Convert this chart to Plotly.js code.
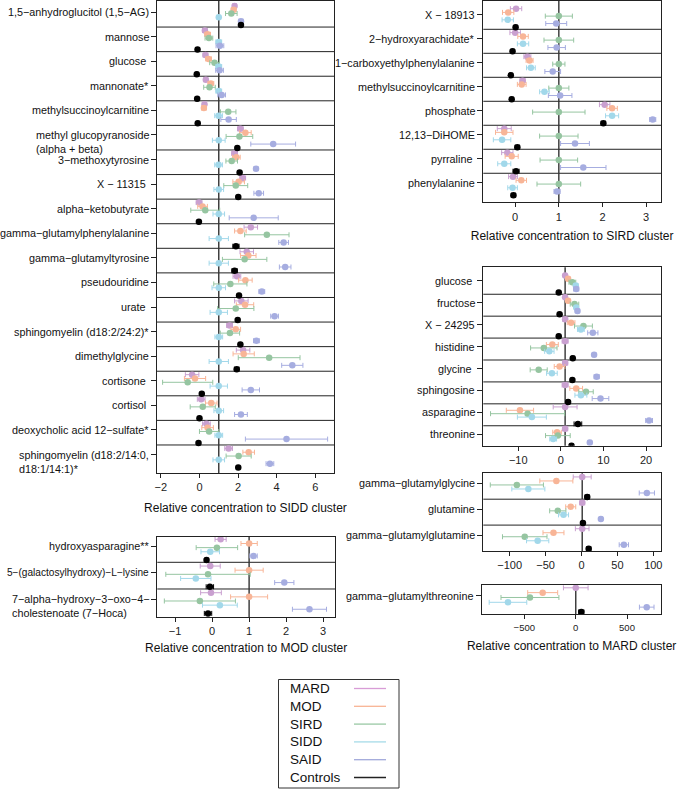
<!DOCTYPE html>
<html><head><meta charset="utf-8">
<script src="https://cdn.plot.ly/plotly-3.0.1.min.js"></script>
<style>html,body{margin:0;padding:0;background:#fff}#chart{width:683px;height:789px}</style>
</head><body><div id="chart"></div>
<script>
// ---------------- DATA ----------------
const groups = ['MARD', 'MOD', 'SIRD', 'SIDD', 'SAID', 'Controls'];

// Panel: relative to SIDD cluster
const siddLabels = ['1,5−anhydroglucitol (1,5−AG)', 'mannose', 'glucose ', 'mannonate*', 'methylsuccinoylcarnitine',
  'methyl glucopyranoside<br>(alpha + beta)', '3−methoxytyrosine', 'X − 11315 ', 'alpha−ketobutyrate',
  'gamma−glutamylphenylalanine', 'gamma−glutamyltyrosine', 'pseudouridine', 'urate ', 'sphingomyelin (d18:2/24:2)*',
  'dimethylglycine', 'cortisone ', 'cortisol ', 'deoxycholic acid 12−sulfate*', 'sphingomyelin (d18:2/14:0,<br>d18:1/14:1)*'];
const siddMARD = [1.82, 0.28, 0.31, 0.33, 0.26, 2.12, 1.82, 2.24, -0.02, 2.66, 2.45, 1.94, 2.17, 1.56, 2.26, -0.38, 0.09, 0.36, 1.51];
const siddMARDErr = [0.1, 0.12, 0.12, 0.1, 0.1, 0.15, 0.15, 0.15, 0.15, 0.35, 0.35, 0.2, 0.35, 0.15, 0.35, 0.35, 0.2, 0.2, 0.2];
const siddMOD = [1.77, 0.42, 0.47, 0.59, 0.23, 2.38, 1.91, 2.03, 0.16, 2.12, 2.53, 2.38, 2.36, 1.88, 2.29, -0.23, 0.61, 0.42, 2.55];
const siddMODErr = [0.12, 0.15, 0.15, 0.15, 0.12, 0.3, 0.2, 0.3, 0.25, 0.3, 0.4, 0.35, 0.45, 0.25, 0.55, 0.55, 0.3, 0.3, 0.3];
const siddSIRD = [1.65, 0.49, 0.78, 0.52, 1.49, 2.07, 1.67, 1.88, 0.3, 3.49, 2.34, 1.6, 1.88, 1.58, 3.61, -0.61, 0.17, 0.5, 2.03];
const siddSIRDErr = [0.3, 0.2, 0.25, 0.3, 0.4, 0.69, 0.3, 0.62, 0.75, 1.15, 1.15, 0.86, 0.94, 0.5, 1.6, 1.3, 0.65, 0.5, 0.65];
const siddSIDD = [1.0, 1.0, 1.0, 1.0, 0.99, 1.0, 0.99, 1.0, 1.0, 1.0, 1.0, 1.0, 1.0, 1.0, 1.0, 1.0, 1.0, 1.0, 1.0];
const siddSIDDErr = [0.08, 0.15, 0.15, 0.15, 0.2, 0.33, 0.2, 0.25, 0.3, 0.5, 0.5, 0.35, 0.45, 0.2, 0.5, 0.45, 0.25, 0.2, 0.3];
const siddSAID = [2.15, 1.06, 1.04, 1.15, 1.51, 3.82, 2.93, 3.07, 2.81, 4.36, 4.44, 3.23, 3.89, 2.95, 4.81, 2.66, 2.15, 4.51, 3.65];
const siddSAIDErr = [0.1, 0.2, 0.2, 0.2, 0.4, 1.16, 0.1, 0.25, 1.27, 0.25, 0.3, 0.15, 0.2, 0.15, 0.55, 0.45, 0.33, 2.13, 0.2];
const siddCtrl = [2.15, -0.1, -0.14, -0.12, -0.09, 1.96, 2.08, 2.01, -0.03, 1.89, 1.82, 2.05, 1.98, 2.12, 1.93, 0.12, 0.0, -0.05, 2.01];
const siddCtrlErr = [0.05, 0.05, 0.05, 0.05, 0.05, 0.05, 0.05, 0.05, 0.05, 0.16, 0.14, 0.05, 0.05, 0.05, 0.12, 0.05, 0.05, 0.05, 0.05];

// Panel: relative to MOD cluster
const modLabels = ['hydroxyasparagine**', '5−(galactosylhydroxy)−L−lysine', '7−alpha−hydroxy−3−oxo−4−<br>cholestenoate (7−Hoca)'];
const modMARD = [0.23, -0.05, -0.03];   const modMARDErr = [0.15, 0.27, 0.28];
const modMOD = [1, 1, 1];               const modMODErr = [0.22, 0.38, 0.5];
const modSIRD = [0.13, -0.11, -0.33];   const modSIRDErr = [0.56, 1.14, 0.96];
const modSIDD = [-0.05, -0.44, 0.21];   const modSIDDErr = [0.25, 0.41, 0.47];
const modSAID = [1.12, 1.95, 2.63];     const modSAIDErr = [0.1, 0.26, 0.46];
const modCtrl = [-0.15, -0.06, -0.11];  const modCtrlErr = [0.04, 0.1, 0.1];

// Panel: relative to SIRD cluster
const sirdLabels = ['X − 18913', '2−hydroxyarachidate*', '1−carboxyethylphenylalanine', 'methylsuccinoylcarnitine',
  'phosphate', '12,13−DiHOME', 'pyrraline ', 'phenylalanine'];
const sirdMARD = [0.02, 0.0, 0.28, 0.17, 2.05, -0.25, -0.18, -0.05];
const sirdMARDErr = [0.13, 0.12, 0.08, 0.06, 0.12, 0.16, 0.13, 0.1];
const sirdMOD = [-0.16, 0.18, 0.33, 0.15, 2.22, -0.25, -0.08, 0.14];
const sirdMODErr = [0.13, 0.12, 0.08, 0.1, 0.12, 0.2, 0.15, 0.12];
const sirdSIRD = [1, 1, 1, 1, 1, 1, 1, 1];
const sirdSIRDErr = [0.31, 0.34, 0.14, 0.23, 0.6, 0.44, 0.43, 0.5];
const sirdSIDD = [-0.17, 0.18, 0.36, 0.67, 2.22, -0.3, -0.25, -0.06];
const sirdSIDDErr = [0.13, 0.13, 0.1, 0.11, 0.15, 0.2, 0.15, 0.11];
const sirdSAID = [0.94, 0.95, 0.86, 1.03, 3.15, 1.37, 1.56, 0.96];
const sirdSAIDErr = [0.24, 0.2, 0.18, 0.27, 0.07, 0.33, 0.52, 0.07];
const sirdCtrl = [0.01, -0.06, -0.1, -0.08, 2.02, 0.05, 0.02, -0.04];
const sirdCtrlErr = [0.03, 0.03, 0.03, 0.03, 0.05, 0.05, 0.07, 0.05];

// Panel: relative to MARD cluster (small scale)
const mardALabels = ['glucose ', 'fructose', 'X − 24295', 'histidine', 'glycine ', 'sphingosine', 'asparagine', 'threonine'];
const mardAMARD = [1, 1, 1, 1, 1, 1, 1, 1];
const mardAMARDErr = [0.3, 0.3, 0.6, 0.7, 0.6, 0.7, 2.8, 0.6];
const mardAMOD = [1.7, 1.7, 2.4, -2.0, -0.3, 3.6, -9.6, -0.9];
const mardAMODErr = [0.4, 0.4, 0.9, 1.4, 1.25, 1.5, 3.2, 1.0];
const mardASIRD = [2.7, 3.2, 5.3, -4.0, -5.2, 5.9, -7.8, -0.7];
const mardASIRDErr = [0.8, 1.0, 2.1, 3.1, 2.0, 1.7, 8.7, 2.9];
const mardASIDD = [3.5, 3.6, 4.7, -2.7, -2.1, 4.7, -6.8, -1.8];
const mardASIDDErr = [0.5, 0.4, 0.8, 1.1, 1.25, 1.4, 3.4, 0.8];
const mardASAID = [3.6, 3.9, 7.5, 7.8, 8.4, 9.3, 20.7, 6.8];
const mardASAIDErr = [0.6, 0.5, 1.2, 0.4, 0.6, 1.95, 0.8, 0.4];
const mardACtrl = [-0.5, -0.3, -0.5, 2.8, 2.7, 1.7, 4.0, 2.5];
const mardACtrlErr = [0.2, 0.2, 0.2, 0.3, 0.3, 0.3, 0.9, 0.3];

// Panel: relative to MARD cluster (medium scale)
const mardBLabels = ['gamma−glutamylglycine', 'glutamine', 'gamma−glutamylglutamine'];
const mardBMARD = [1, 1, 1];        const mardBMARDErr = [12.5, 3.5, 9.5];
const mardBMOD = [-35, -15, -39];   const mardBMODErr = [23, 7, 14.6];
const mardBSIRD = [-90, -33, -79];  const mardBSIRDErr = [37, 11.3, 31];
const mardBSIDD = [-74, -25, -61];  const mardBSIDDErr = [23, 7, 15.5];
const mardBSAID = [91, 27, 59];     const mardBSAIDErr = [10.6, 2, 6.5];
const mardBCtrl = [8, 2, 10];       const mardBCtrlErr = [3, 1.5, 3];

// Panel: relative to MARD cluster (large scale)
const mardCLabels = ['gamma−glutamylthreonine'];
const mardCMARD = [1];     const mardCMARDErr = [120];
const mardCMOD = [-321];   const mardCMODErr = [146];
const mardCSIRD = [-445];  const mardCSIRDErr = [282];
const mardCSIDD = [-659];  const mardCSIDDErr = [183];
const mardCSAID = [692];   const mardCSAIDErr = [71];
const mardCCtrl = [55];    const mardCCtrlErr = [25];

// ---------------- STYLE / LAYOUT ----------------
const W = 683, H = 789;
const FONT = 'Liberation Sans, Arial, Helvetica, sans-serif';
const COLORS = ['#C9A0D0', '#F8B597', '#96C5A1', '#A2D8EA', '#A6ADE0', '#000000'];
const LEGEND_COLORS = ['#D89CD6', '#F8B494', '#9AC8A4', '#A6DBE8', '#A2A9DB', '#222222'];
const DODGE = [-0.36, -0.205, -0.05, 0.105, 0.26, 0.415];
const TICKOFF = -0.11;

const panels = [
  { labels: siddLabels, vals: [siddMARD, siddMOD, siddSIRD, siddSIDD, siddSAID, siddCtrl],
    errs: [siddMARDErr, siddMODErr, siddSIRDErr, siddSIDDErr, siddSAIDErr, siddCtrlErr],
    box: [157, 334, 1, 473], xrange: [-2.2, 6.97], dtick: 2, yrange: [18.64, -0.56],
    title: 'Relative concentration to SIDD cluster', tickSize: 11, standoff: 11 },
  { labels: modLabels, vals: [modMARD, modMOD, modSIRD, modSIDD, modSAID, modCtrl],
    errs: [modMARDErr, modMODErr, modSIRDErr, modSIDDErr, modSAIDErr, modCtrlErr],
    box: [157.3, 335, 536.7, 617], xrange: [-1.48, 3.32], dtick: 1, yrange: [2.55, -0.46],
    title: 'Relative concentration to MOD cluster', tickSize: 11, standoff: 7 },
  { labels: sirdLabels, vals: [sirdMARD, sirdMOD, sirdSIRD, sirdSIDD, sirdSAID, sirdCtrl],
    errs: [sirdMARDErr, sirdMODErr, sirdSIRDErr, sirdSIDDErr, sirdSAIDErr, sirdCtrlErr],
    box: [483.3, 661, 1, 202.3], xrange: [-0.73, 3.34], dtick: 1, yrange: [7.71, -0.68],
    title: 'Relative concentration to SIRD cluster', tickSize: 11, standoff: 10 },
  { labels: mardALabels, vals: [mardAMARD, mardAMOD, mardASIRD, mardASIDD, mardASAID, mardACtrl],
    errs: [mardAMARDErr, mardAMODErr, mardASIRDErr, mardASIDDErr, mardASAIDErr, mardACtrlErr],
    box: [483.3, 661, 267.3, 445.7], xrange: [-18.2, 23.5], dtick: 10, yrange: [7.41, -0.73],
    title: '', tickSize: 11, standoff: 9 },
  { labels: mardBLabels, vals: [mardBMARD, mardBMOD, mardBSIRD, mardBSIDD, mardBSAID, mardBCtrl],
    errs: [mardBMARDErr, mardBMODErr, mardBSIRDErr, mardBSIDDErr, mardBSAIDErr, mardBCtrlErr],
    box: [483.3, 661, 473.3, 551], xrange: [-136.7, 110.7], dtick: 50, yrange: [2.5, -0.5],
    title: '', tickSize: 11, standoff: 9 },
  { labels: mardCLabels, vals: [mardCMARD, mardCMOD, mardCSIRD, mardCSIDD, mardCSAID, mardCCtrl],
    errs: [mardCMARDErr, mardCMODErr, mardCSIRDErr, mardCSIDDErr, mardCSAIDErr, mardCCtrlErr],
    box: [482.3, 661, 585, 614.3], xrange: [-909, 831], dtick: 500, yrange: [0.49, -0.45],
    title: 'Relative concentration to MARD cluster', tickSize: 9.5, standoff: 9 }
];

const traces = [];
const layout = {
  width: W, height: H, margin: { l: 0, r: 0, t: 0, b: 0 },
  paper_bgcolor: '#ffffff', plot_bgcolor: '#ffffff',
  font: { family: FONT, color: '#111111' },
  showlegend: false, shapes: [], annotations: []
};

panels.forEach((p, k) => {
  const sfx = k === 0 ? '' : String(k + 1);
  const xa = 'x' + sfx, ya = 'y' + sfx;
  const n = p.labels.length;

  p.vals.forEach((vals, g) => {
    traces.push({
      type: 'scatter', mode: 'markers', xaxis: xa, yaxis: ya,
      name: groups[g],
      x: vals,
      y: vals.map((_, i) => i + DODGE[g]),
      error_x: { type: 'data', symmetric: true, array: p.errs[g], color: COLORS[g], thickness: 1, width: 2.5 },
      marker: { size: 6.5, color: COLORS[g], line: { width: 0 } },
      hoverinfo: 'skip', cliponaxis: true
    });
  });

  const [x0, x1, y0, y1] = p.box;
  layout['xaxis' + sfx] = {
    domain: [x0 / W, x1 / W], anchor: ya, range: p.xrange, tick0: 0, dtick: p.dtick,
    ticks: 'outside', ticklen: 4, tickwidth: 1, tickcolor: '#222',
    showline: true, mirror: true, linecolor: '#222', linewidth: 1,
    showgrid: false, zeroline: false,
    tickfont: { family: FONT, size: p.tickSize, color: '#222' },
    title: { text: p.title, font: { family: FONT, size: 12, color: '#111' }, standoff: p.standoff }
  };
  layout['yaxis' + sfx] = {
    domain: [1 - y1 / H, 1 - y0 / H], anchor: xa, range: p.yrange,
    tickmode: 'array', tickvals: p.labels.map((_, i) => i + TICKOFF), showticklabels: false,
    ticks: 'outside', ticklen: 5, tickwidth: 1, tickcolor: '#222',
    showline: true, mirror: true, linecolor: '#222', linewidth: 1,
    showgrid: false, zeroline: false
  };

  // row separators
  for (let i = 0; i < n - 1; i++) {
    layout.shapes.push({ type: 'line', xref: xa + ' domain', yref: ya, x0: 0, x1: 1, y0: i + 0.5, y1: i + 0.5,
      line: { color: '#222', width: 1 }, layer: 'below' });
  }
  // reference line at 1
  layout.shapes.push({ type: 'line', xref: xa, yref: ya + ' domain', x0: 1, x1: 1, y0: 0, y1: 1,
    line: { color: '#333', width: 1.4 }, layer: 'below' });

  // row labels
  p.labels.forEach((lab, i) => {
    const multi = lab.indexOf('<br>') >= 0;
    const long = !multi && lab.length >= 30;
    layout.annotations.push({
      xref: xa + ' domain', yref: ya, x: 0, y: i + TICKOFF,
      xanchor: 'right', yanchor: multi ? 'top' : 'middle', yshift: multi ? 8 : 0, xshift: -6,
      text: lab, showarrow: false, align: 'left',
      font: { family: FONT, size: long ? 10.1 : 10.8, color: '#111' }
    });
  });
});

// custom legend (text then line)
const LX0 = 278.5, LX1 = 399, LY0 = 679.5, LY1 = 788;
layout.shapes.push({ type: 'rect', xref: 'paper', yref: 'paper', x0: LX0 / W, x1: LX1 / W, y0: 1 - LY1 / H, y1: 1 - LY0 / H,
  line: { color: '#333', width: 1 }, fillcolor: 'rgba(0,0,0,0)' });
groups.forEach((gname, g) => {
  const yy = 688.5 + g * 17.8;
  layout.annotations.push({ xref: 'paper', yref: 'paper', x: 288 / W, y: 1 - yy / H, xanchor: 'left', yanchor: 'middle',
    text: gname, showarrow: false, font: { family: FONT, size: 13.5, color: '#111' } });
  layout.shapes.push({ type: 'line', xref: 'paper', yref: 'paper', x0: 354 / W, x1: 386 / W, y0: 1 - yy / H, y1: 1 - yy / H,
    line: { color: LEGEND_COLORS[g], width: g === 5 ? 1.5 : 1.3 } });
});

Plotly.newPlot('chart', traces, layout, { displayModeBar: false, staticPlot: true });
</script>
</body></html>
